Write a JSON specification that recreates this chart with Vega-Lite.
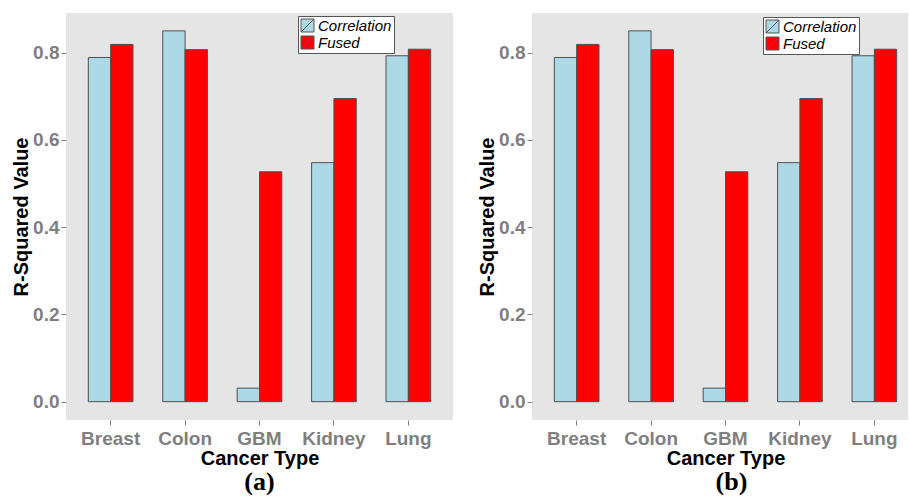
{
  "$schema": "https://vega.github.io/schema/vega-lite/v6.json",
  "padding": {"left": 11, "top": 13, "right": 0, "bottom": 0},
  "spacing": 24,
  "background": "white",
  "data": {"values": [
    {"Cancer": "Breast", "Method": "Correlation", "R2": 0.789},
    {"Cancer": "Breast", "Method": "Fused", "R2": 0.819},
    {"Cancer": "Colon", "Method": "Correlation", "R2": 0.850},
    {"Cancer": "Colon", "Method": "Fused", "R2": 0.807},
    {"Cancer": "GBM", "Method": "Correlation", "R2": 0.031},
    {"Cancer": "GBM", "Method": "Fused", "R2": 0.527},
    {"Cancer": "Kidney", "Method": "Correlation", "R2": 0.548},
    {"Cancer": "Kidney", "Method": "Fused", "R2": 0.695},
    {"Cancer": "Lung", "Method": "Correlation", "R2": 0.793},
    {"Cancer": "Lung", "Method": "Fused", "R2": 0.808}
  ]},
  "resolve": {"legend": {"color": "independent"}},
  "hconcat": [
    {
      "width": 387,
      "height": 407,
      "title": {"text": "(a)", "orient": "bottom", "font": "Liberation Serif", "fontSize": 26, "fontWeight": "bold", "color": "black", "offset": 1},
      "mark": {"type": "bar", "stroke": "#505050", "strokeWidth": 1},
      "encoding": {
        "x": {"field": "Cancer", "type": "nominal", "title": "Cancer Type", "scale": {"paddingInner": 0.4, "paddingOuter": 0.3}, "axis": {"labelAngle": 0}},
        "xOffset": {"field": "Method", "type": "nominal"},
        "y": {"field": "R2", "type": "quantitative", "title": "R-Squared Value", "scale": {"domain": [-0.042, 0.891], "nice": false, "zero": false}, "axis": {"values": [0, 0.2, 0.4, 0.6, 0.8], "format": ".1f"}},
        "y2": {"datum": 0},
        "color": {"field": "Method", "type": "nominal", "scale": {"domain": ["Correlation", "Fused"], "range": ["#ADD8E6", "#FF0000"]}, "legend": {"orient": "none", "legendX": 232, "legendY": 3}}
      }
    },
    {
      "width": 376,
      "height": 407,
      "title": {"text": "(b)", "orient": "bottom", "font": "Liberation Serif", "fontSize": 26, "fontWeight": "bold", "color": "black", "offset": 1, "anchor": "start", "dx": 238},
      "mark": {"type": "bar", "stroke": "#505050", "strokeWidth": 1},
      "encoding": {
        "x": {"field": "Cancer", "type": "nominal", "title": "Cancer Type", "scale": {"paddingInner": 0.4, "paddingOuter": 0.3, "range": [0, 387]}, "axis": {"labelAngle": 0, "titleX": 193.5}},
        "xOffset": {"field": "Method", "type": "nominal"},
        "y": {"field": "R2", "type": "quantitative", "title": "R-Squared Value", "scale": {"domain": [-0.042, 0.891], "nice": false, "zero": false}, "axis": {"values": [0, 0.2, 0.4, 0.6, 0.8], "format": ".1f"}},
        "y2": {"datum": 0},
        "color": {"field": "Method", "type": "nominal", "scale": {"domain": ["Correlation", "Fused"], "range": ["#ADD8E6", "#FF0000"]}, "legend": {"orient": "none", "legendX": 231, "legendY": 4}}
      }
    }
  ],
  "config": {
    "view": {"fill": "#E5E5E5", "stroke": null},
    "axis": {
      "grid": false,
      "domain": false,
      "tickColor": "#7F7F7F",
      "tickSize": 5,
      "labelColor": "#7F7F7F",
      "labelFont": "Liberation Sans",
      "labelFontWeight": "bold",
      "titleFont": "Liberation Sans",
      "titleFontWeight": "bold",
      "titleColor": "black",
      "titleFontSize": 20
    },
    "axisX": {"labelFontSize": 19, "labelPadding": 4, "titlePadding": 0},
    "axisY": {"labelFontSize": 19, "labelPadding": 2, "titlePadding": 1},
    "legend": {
      "title": null,
      "fillColor": "white",
      "strokeColor": "#555555",
      "padding": 2,
      "cornerRadius": 0,
      "symbolType": "M-1,-1H1V1H-1Z M-1,1L1,-1",
      "symbolSize": 169,
      "symbolStrokeColor": "#555555",
      "symbolStrokeWidth": 1,
      "symbolOpacity": 1,
      "labelFont": "Liberation Sans",
      "labelFontStyle": "italic",
      "labelFontSize": 15,
      "labelColor": "black",
      "labelOffset": 3,
      "rowPadding": 0
    }
  }
}
